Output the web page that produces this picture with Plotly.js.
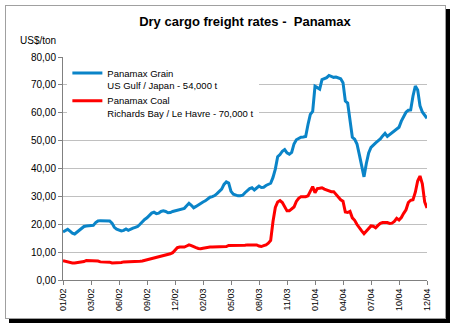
<!DOCTYPE html>
<html>
<head>
<meta charset="utf-8">
<script src="https://cdn.plot.ly/plotly-3.0.1.min.js"></script>
<style>
  html, body { margin: 0; padding: 0; background: #ffffff; }
  #frame { position: absolute; left: 5px; top: 5px; width: 439px; height: 312px;
           border: 1px solid #a0a0a0; box-shadow: 4px 4px 0 0 #000000; background: #ffffff; }
  #chart { position: absolute; left: 0; top: 0; width: 454px; height: 326px; }
</style>
</head>
<body>
<div id="frame"></div>
<div id="chart"></div>
<script>
// Week index (weekly observations, Jan 2002 .. Dec 2004)
const tickWeeks = [0, 12, 24, 36, 48, 60, 72, 84, 96, 108, 120, 132, 144, 156];
const tickLabels = ["01/02", "03/02", "06/02", "09/02", "12/02", "02/03", "05/03",
                    "08/03", "11/03", "01/04", "04/04", "07/04", "10/04", "12/04"];

// Panamax Grain, US Gulf / Japan - 54,000 t (US$/ton), one value per week
const grainRates = [
  17.2, 17.8, 18.2, 17.5, 16.8, 16.5, 17.2, 18.0, 18.8, 19.2,
  19.4, 19.4, 19.4, 19.6, 20.6, 21.2, 21.3, 21.3, 21.3, 21.3,
  21.2, 20.4, 18.9, 18.2, 17.9, 17.6, 17.8, 18.3, 17.8, 18.3,
  18.6, 18.9, 19.2, 20.0, 20.9, 21.7, 22.3, 23.2, 24.0, 24.3,
  23.8, 24.0, 24.6, 24.8, 24.6, 24.1, 24.2, 24.6, 24.8, 25.0,
  25.3, 25.5, 25.7, 26.6, 27.5, 26.8, 25.9, 26.4, 27.0, 27.5,
  28.0, 28.4, 29.0, 29.7, 29.9, 30.3, 31.0, 31.8, 32.6, 34.3,
  35.2, 34.8, 31.8, 30.8, 30.4, 30.2, 30.2, 30.4, 31.3, 32.2,
  32.8, 33.1, 32.3, 33.0, 33.7, 33.2, 33.3, 33.9, 34.3, 34.7,
  36.8, 39.8, 44.2, 45.0, 46.2, 46.8, 45.6, 45.1, 45.8, 48.8,
  50.3, 50.8, 51.2, 51.3, 51.5, 55.8, 59.4, 60.5, 69.5, 69.0,
  68.5, 71.9, 72.2, 72.6, 73.4, 72.9, 72.7, 72.8, 72.6, 72.2,
  70.8, 64.2, 63.5, 57.0, 51.2, 50.5, 48.8, 45.0, 40.5, 37.0,
  41.8, 45.6, 47.6, 48.6, 49.2, 49.9, 50.6, 51.7, 52.6, 51.5,
  52.2, 53.0, 53.5, 54.2, 54.8, 57.0, 58.8, 60.2, 60.9, 61.0,
  66.0, 69.6, 68.2, 62.5, 60.3, 59.2, 58.0
];

// Panamax Coal, Richards Bay / Le Havre - 70,000 t (US$/ton), one value per week
const coalRates = [
  6.9, 6.7, 6.3, 6.1, 6.1, 6.1, 6.2, 6.5, 6.5, 6.6,
  7.0, 7.0, 7.0, 7.0, 7.0, 6.8, 6.5, 6.5, 6.5, 6.5,
  6.4, 6.1, 6.1, 6.1, 6.1, 6.3, 6.5, 6.5, 6.5, 6.5,
  6.5, 6.5, 6.5, 6.7, 6.8, 7.0, 7.3, 7.5, 7.7, 7.9,
  8.1, 8.3, 8.4, 8.6, 8.9, 9.1, 9.4, 9.8, 10.6, 11.6,
  11.8, 11.8, 11.8, 12.2, 12.6, 12.3, 11.8, 11.6, 11.3, 11.2,
  11.4, 11.6, 11.7, 11.8, 11.8, 11.8, 11.8, 11.8, 11.8, 11.8,
  12.0, 12.4, 12.4, 12.3, 12.3, 12.3, 12.3, 12.3, 12.5, 12.6,
  12.6, 12.6, 12.6, 12.6, 12.2, 12.0, 12.3, 12.6, 13.2, 14.2,
  21.0, 26.0, 28.0, 28.5, 27.8, 26.5, 24.8, 24.8, 25.6, 26.2,
  28.2, 29.3, 29.9, 29.9, 29.9, 30.2, 31.7, 33.5, 31.3, 32.8,
  32.9, 33.1, 32.6, 32.3, 32.2, 31.7, 31.7, 30.8, 29.8, 28.8,
  28.3, 24.4, 24.2, 24.6, 22.3, 21.4, 19.9, 18.6, 17.6, 16.6,
  17.6, 18.7, 19.4, 19.3, 18.7, 19.6, 20.3, 20.6, 20.6, 20.6,
  20.3, 20.4, 21.0, 22.1, 21.5, 22.4, 23.9, 25.2, 27.8, 28.6,
  28.8, 31.5, 35.5, 37.3, 34.5, 28.0, 25.8
];

const seriesNames = [
  "Panamax Grain<br>US Gulf / Japan - 54,000 t",
  "Panamax Coal<br>Richards Bay / Le Havre - 70,000 t"
];

const weeks = grainRates.map((_, i) => i);
const FONT = "Liberation Sans, Arial, sans-serif";

const traces = [
  { x: weeks, y: grainRates, name: seriesNames[0], type: "scatter", mode: "lines",
    line: { color: "#0a84c8", width: 3 } },
  { x: weeks, y: coalRates, name: seriesNames[1], type: "scatter", mode: "lines",
    line: { color: "#ff0000", width: 3 } }
];

const layout = {
  width: 454, height: 326,
  paper_bgcolor: "rgba(0,0,0,0)", plot_bgcolor: "#ffffff",
  margin: { l: 63, r: 27, t: 57, b: 46, pad: 0 },
  separators: ",.",
  font: { family: FONT, size: 10, color: "#000000" },
  title: { text: "<b>Dry cargo freight rates -\u00a0 Panamax</b>",
           font: { family: FONT, size: 13, color: "#000000" },
           x: 0.5, xref: "paper", xanchor: "center", y: 1 - 21 / 326, yref: "container", yanchor: "middle" },
  xaxis: {
    range: [0, 156], showgrid: false, zeroline: false,
    showline: true, linecolor: "#808080", linewidth: 1,
    ticks: "outside", ticklen: 4, tickcolor: "#808080",
    tickmode: "array", tickvals: tickWeeks, ticktext: tickLabels,
    tickangle: -90, tickfont: { family: FONT, size: 9, color: "#000000" }
  },
  yaxis: {
    range: [0, 80], dtick: 10, tick0: 0, tickformat: ".2f",
    showgrid: true, gridcolor: "#c0c0c0", gridwidth: 1, zeroline: false,
    showline: true, linecolor: "#808080", linewidth: 1,
    ticks: "outside", ticklen: 4, tickcolor: "#808080",
    tickfont: { family: FONT, size: 10, color: "#000000" }
  },
  showlegend: true,
  legend: {
    x: 0.012, y: 0.985, xanchor: "left", yanchor: "top",
    bgcolor: "#ffffff", borderwidth: 0, valign: "top",
    font: { family: FONT, size: 9.5, color: "#000000" },
    tracegroupgap: 4
  },
  annotations: [
    { text: "US$/ton", xref: "paper", yref: "paper", x: -0.124, y: (280 - 40) / 223,
      xanchor: "left", yanchor: "middle", showarrow: false,
      font: { family: FONT, size: 10, color: "#000000" } }
  ]
};

Plotly.newPlot("chart", traces, layout, { displayModeBar: false, staticPlot: true });
</script>
</body>
</html>
